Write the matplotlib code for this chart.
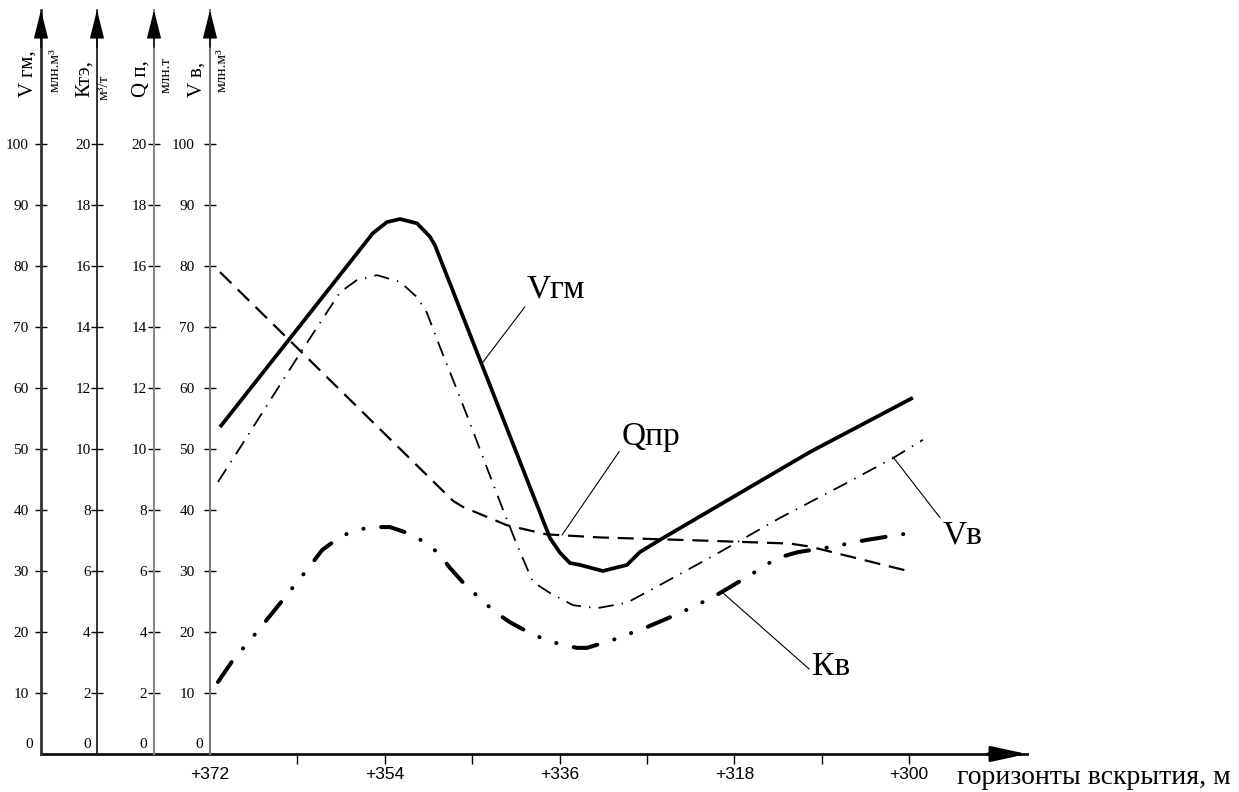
import matplotlib
matplotlib.use("Agg")
import matplotlib.pyplot as plt

W, H = 1239, 792

# horizons, m (x axis)
hor_ticks = [372, 354, 336, 318, 300]
hor_minor = [363, 345, 327, 309]

# V гм, млн.м3
vgm_h = [370.97, 355.21, 353.77, 352.43, 350.68, 349.34, 348.83, 336.98, 335.95, 334.92,
         333.90, 331.53, 329.05, 327.72, 325.66, 310.21, 299.60]
vgm_v = [53.6, 85.4, 87.2, 87.7, 87.0, 84.8, 83.4, 35.4, 33.0, 31.3,
         31.0, 30.0, 31.0, 33.1, 35.1, 49.5, 58.4]

# V в, млн.м3
vv_h = [371.18, 368.91, 363.04, 358.61, 356.86, 354.80, 352.43, 350.68, 349.65, 348.31,
        346.56, 345.02, 343.47, 341.93, 340.38, 338.74, 336.98, 334.62, 332.14, 329.05,
        325.66, 319.48, 313.30, 306.81, 301.66, 298.57]
vv_v = [44.6, 50.2, 64.9, 75.7, 77.7, 78.5, 77.4, 74.9, 72.3, 66.7,
        59.7, 53.4, 46.9, 40.5, 34.3, 28.2, 26.4, 24.4, 23.9, 24.8,
        27.7, 33.1, 38.7, 44.1, 48.5, 51.5]

# Q пр, млн.т
q_h = [370.97, 346.97, 345.94, 341.41, 337.30, 331.80, 321.50, 312.30, 310.20, 300.10]
q_v = [15.8, 8.3, 8.1, 7.5, 7.2, 7.1, 7.0, 6.9, 6.8, 6.0]

# K в, м3/т
k_h = [371.18, 369.63, 367.06, 364.07, 361.70, 360.47, 358.61, 356.96, 355.32, 353.46,
       351.61, 349.96, 348.52, 347.28, 345.53, 344.09, 342.75, 341.10, 339.25, 337.71,
       335.95, 334.20, 333.17, 330.50, 327.00, 323.60, 320.20, 316.70, 313.61, 311.44,
       308.15, 304.34, 299.19]
k_v = [2.36, 3.08, 4.04, 5.22, 6.16, 6.68, 7.12, 7.34, 7.44, 7.44,
       7.24, 6.96, 6.60, 6.10, 5.48, 5.08, 4.68, 4.32, 4.00, 3.78,
       3.60, 3.48, 3.48, 3.74, 4.16, 4.62, 5.14, 5.80, 6.42, 6.62,
       6.78, 7.02, 7.28]

v_ticks = list(range(10, 101, 10))
kq_ticks = list(range(2, 21, 2))

serif = "Liberation Serif"
narrow = ["Liberation Sans Narrow", "Liberation Sans"]

fig = plt.figure(figsize=(W / 100, H / 100), dpi=100)

# main data axes: from the first vertical axis to the arrow tip
px_per_m = 699 / 72.0
x_left = 372 + (210 - 41) / px_per_m
x_right = 372 - (1027 - 210) / px_per_m
v_top = (754 - 10) / 6.1
bot = (H - 754) / H
hgt = (754 - 10) / H

ax = fig.add_axes([41 / W, bot, (1027 - 41) / W, hgt])
ax.set_xlim(x_left, x_right)
ax.set_ylim(0, v_top)
for s in ["top", "right", "left"]:
    ax.spines[s].set_visible(False)
ax.spines["bottom"].set_linewidth(2)
ax.spines["bottom"].set_color("#111111")
ax.set_yticks([])
ax.set_xticks(hor_ticks)
ax.set_xticklabels(["+%d" % t for t in hor_ticks], fontfamily=narrow, fontsize=12.5)
ax.set_xticks(hor_minor, minor=True)
ax.tick_params(axis="x", which="both", direction="out", length=7.5, width=1, pad=2)
ax.xaxis.get_major_ticks()[0].tick1line.set_visible(False)
ax.patch.set_visible(False)

axk = ax.twinx()
axk.set_ylim(0, v_top / 5)
axk.axis("off")

# the curves
ax.plot(vgm_h, vgm_v, color="black", lw=2.7, solid_joinstyle="round", solid_capstyle="butt")
ax.plot(vv_h, vv_v, color="black", lw=1.3, linestyle=(0, (8.5, 4.5, 0.8, 4.5)))
axk.plot(q_h, q_v, color="black", lw=1.6, linestyle=(0, (7.2, 4.0)))
axk.plot(k_h, k_v, color="black", lw=2.9, dash_capstyle="round",
         linestyle=(0, (6.0, 4.4, 0.05, 4.4, 0.05, 4.4)))

# curve labels with leaders
lead = dict(arrowstyle="-", lw=0.8, color="black", shrinkA=0, shrinkB=0)
ax.annotate("Vгм", xy=(343.88, 64.26), xytext=(44, 58), textcoords="offset pixels",
            fontfamily=serif, fontsize=24, ha="left", va="bottom",
            arrowprops=dict(lead, relpos=(0, 0)))
axk.annotate("Qпр", xy=(335.74, 7.18), xytext=(60, 83), textcoords="offset pixels",
             fontfamily=serif, fontsize=24, ha="left", va="bottom",
             arrowprops=dict(lead, relpos=(0, 0.15)))
ax.annotate("Vв", xy=(301.65, 48.7), xytext=(50, -63), textcoords="offset pixels",
            fontfamily=serif, fontsize=24, ha="left", va="top",
            arrowprops=dict(lead, relpos=(0, 0.95)))
axk.annotate("Кв", xy=(319.16, 5.28), xytext=(89, -74), textcoords="offset pixels",
             fontfamily=serif, fontsize=24, ha="left", va="center",
             arrowprops=dict(lead, relpos=(0, 0.35)))

# horizontal arrow
ax.annotate("", xy=(1.0, 0), xycoords="axes fraction", xytext=(0.96, 0),
            arrowprops=dict(arrowstyle="-|>,head_length=0.55,head_width=0.12",
                            mutation_scale=40, color="black", lw=2, shrinkA=0, shrinkB=0))
fig.text(957 / W, 1 - 784 / H, "горизонты вскрытия, м", fontfamily=serif, fontsize=20,
         ha="left", va="baseline")

# four vertical axes
axes_spec = [
    (41, v_top, v_ticks, 5, "#333333", 2.0),
    (97, v_top / 5, kq_ticks, 0.5, "#111111", 1.2),
    (154, v_top / 5, kq_ticks, 1.0, "#888888", 1.5),
    (210, v_top, v_ticks, 7, "#777777", 1.5),
]
zero_dx = [-8, -6, -7, -7]
for (xp, top, ticks, pad, col, lw), dx in zip(axes_spec, zero_dx):
    a = fig.add_axes([xp / W, bot, 1e-5, hgt])
    a.patch.set_visible(False)
    for s in ["top", "right", "bottom"]:
        a.spines[s].set_visible(False)
    a.spines["left"].set_color(col)
    a.spines["left"].set_linewidth(lw)
    a.set_xticks([])
    a.set_ylim(0, top)
    a.set_yticks(ticks)
    a.set_yticklabels([str(t) for t in ticks], fontfamily=serif, fontsize=11)
    a.tick_params(axis="y", direction="inout", length=8, width=1, pad=pad, color="black")
    a.annotate("0", xy=(0, 0), xycoords="axes fraction", xytext=(dx, 9),
               textcoords="offset pixels", ha="right", va="center",
               fontfamily=serif, fontsize=11)
    a.annotate("", xy=(0, 1.0), xycoords="axes fraction", xytext=(0, 0.95),
               arrowprops=dict(arrowstyle="-|>,head_length=0.6,head_width=0.15",
                               mutation_scale=30, color="black", lw=1, shrinkA=0, shrinkB=0))

# axis titles (rotated)
titles = [
    (28.5, 97, "V гм,", 15), (55, 92, "млн.м³", 11),
    (84, 97, "Ктэ,", 15), (104, 100, "м³/т", 11),
    (141, 97, "Q п,", 15), (166, 93, "млн.т", 11),
    (197.5, 97, "V в,", 15), (222, 92, "млн.м³", 11),
]
for xp, yp, txt, fs in titles:
    fig.text(xp / W, 1 - yp / H, txt, rotation=90, ha="center", va="bottom",
             fontfamily=serif, fontsize=fs)

fig.savefig("out.png", dpi=100)
